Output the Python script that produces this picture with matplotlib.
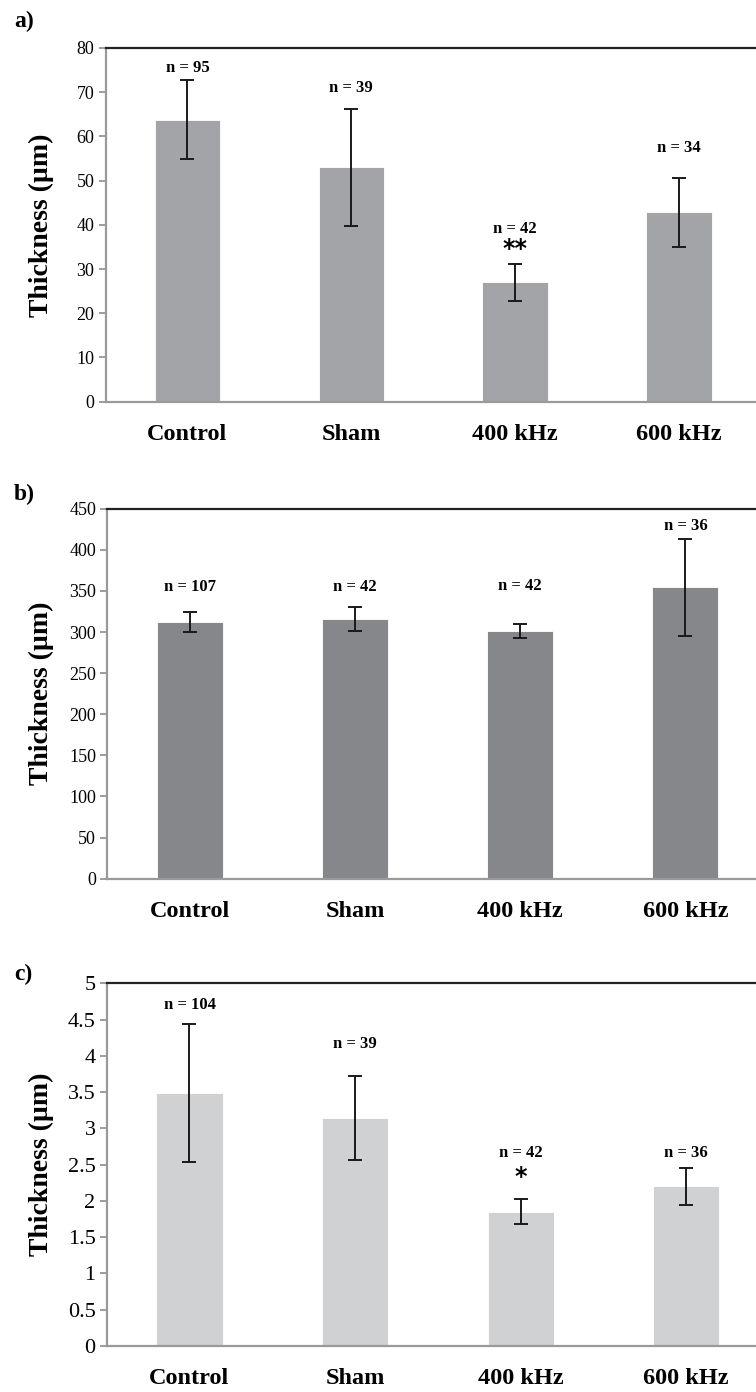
import matplotlib

matplotlib.use("Agg")
import matplotlib.pyplot as plt
from matplotlib.ticker import FuncFormatter
import numpy as np

groups = ["Control", "Sham", "400 kHz", "600 kHz"]

# panel a
a_mean = [63.8, 53.0, 27.0, 42.8]
a_err = [9.0, 13.2, 4.2, 7.8]
a_n = [95, 39, 42, 34]
a_n_y = [75.5, 71.0, 39.0, 57.4]

# panel b
b_mean = [312, 316, 301.5, 354.5]
b_err = [12, 15, 8.5, 59]
b_n = [107, 42, 42, 36]
b_n_y = [355, 355, 355.5, 428.5]

# panel c
c_mean = [3.49, 3.14, 1.85, 2.2]
c_err = [0.95, 0.58, 0.17, 0.25]
c_n = [104, 39, 42, 36]
c_n_y = [4.70, 4.16, 2.66, 2.66]

SERIF = ["Liberation Serif", "DejaVu Serif"]
plt.rcParams.update({"font.family": SERIF, "font.size": 12})

W, H = 756, 1392
fig = plt.figure(figsize=(W / 100, H / 100), dpi=100)


def px_axes(left, top, right, bottom):
    return fig.add_axes([left / W, 1 - bottom / H, (right - left) / W, (bottom - top) / H])


def panel(ax, mean, err, ns, ny, color, ymax, step, tick_fs, left_px, width_px, star=None):
    x = np.arange(len(groups))
    ax.bar(x, mean, width=0.4, color=color, edgecolor="white", linewidth=0.6, zorder=2)
    ax.errorbar(x, mean, yerr=err, fmt="none", ecolor="#1a1a1a", elinewidth=1.4,
                capsize=5, capthick=1.4, zorder=3)
    for xi, n, y in zip(x, ns, ny):
        ax.text(xi, y, f"n = {n}", ha="center", va="center", fontsize=12, fontweight="bold")
    if star is not None:
        i, y, s = star
        ax.text(i, y, s, ha="center", va="center", fontsize=17, fontweight="bold",
                family=["DejaVu Sans"])
    ax.set_xlim(-0.5, 3.5)
    ax.set_ylim(0, ymax)
    ax.set_yticks(np.arange(0, ymax + step / 2, step))
    ax.yaxis.set_major_formatter(FuncFormatter(lambda v, p: f"{v:g}"))
    ax.set_xticks(x)
    ax.set_xticklabels(groups, fontsize=17.5, fontweight="bold")
    ax.tick_params(axis="x", length=0, pad=16)
    ax.tick_params(axis="y", length=5, width=1.2, color="#8c8c8c", labelsize=tick_fs, pad=3)
    ax.spines["right"].set_visible(False)
    ax.spines["top"].set_color("#222222")
    ax.spines["top"].set_linewidth(1.6)
    for s in ("left", "bottom"):
        ax.spines[s].set_color("#9a9a9a")
        ax.spines[s].set_linewidth(1.6)
    ax.set_ylabel("Thickness (µm)", fontsize=20, fontweight="bold")
    ax.yaxis.set_label_coords((54 - left_px) / width_px, 0.5)


ax_a = px_axes(105.5, 48, 761, 401.6)
panel(ax_a, a_mean, a_err, a_n, a_n_y, "#a3a4a8", 80, 10, 13, 105.5, 655.5,
      star=(2, 34.5, "**"))
ax_b = px_axes(107.3, 508.7, 768, 878.7)
panel(ax_b, b_mean, b_err, b_n, b_n_y, "#86878b", 450, 50, 13, 107.3, 660.7)
ax_c = px_axes(106.7, 983.3, 769, 1346)
panel(ax_c, c_mean, c_err, c_n, c_n_y, "#d0d1d3", 5, 0.5, 16, 106.7, 662.3,
      star=(2, 2.33, "*"))

for lab, y in (("a)", 21), ("b)", 494), ("c)", 974)):
    fig.text(14 / W, 1 - y / H, lab, ha="left", va="center", fontsize=17, fontweight="bold")

fig.savefig("out.png", dpi=100)
